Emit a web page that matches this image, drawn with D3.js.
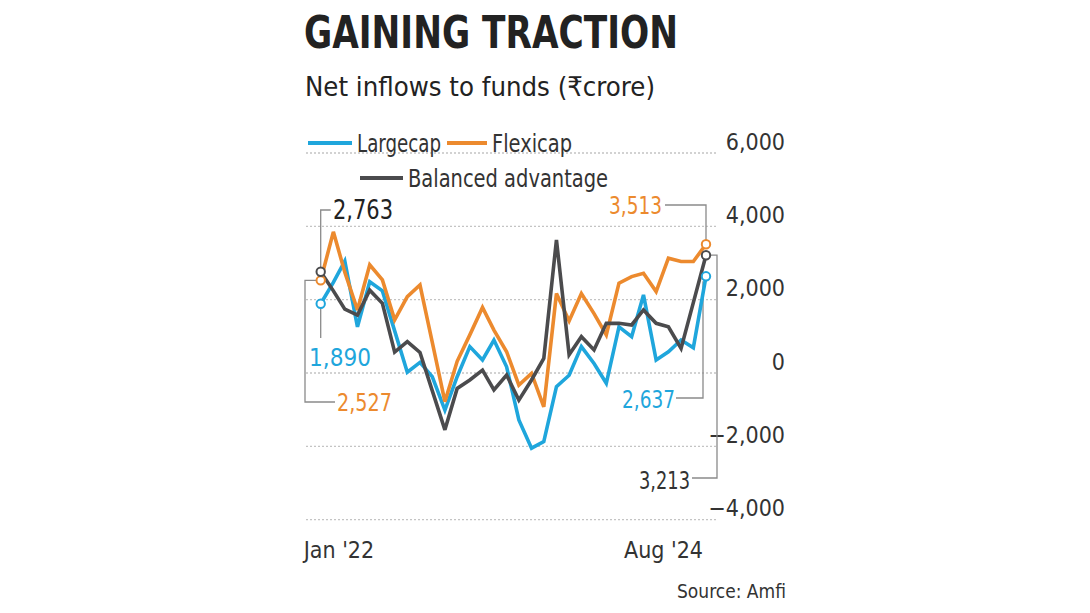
<!DOCTYPE html>
<html>
<head>
<meta charset="utf-8">
<script src="https://cdn.jsdelivr.net/npm/d3@7"></script>
<style>
  body { margin: 0; background: #fff; }
  svg text { font-family: "DejaVu Sans Condensed", "DejaVu Sans", sans-serif; }
</style>
</head>
<body>
<svg width="1090" height="613"></svg>
<script>
// monthly net inflows, Jan 2022 .. Aug 2024 (Rs crore)
var largecap = [1890, 2470, 3050, 1260, 2490, 2240, 1150, 20, 290, -100, -1010, -100, 720, 355, 900, 170,
                -1280, -2050, -1870, -370, -60, 720, 260, -280, 1260, 990, 2130, 355, 580, 900, 690, 2637];
var flexicap = [2527, 3850, 2750, 1720, 2950, 2540, 1450, 2080, 2400, 845, -780, 320, 1040, 1790, 1170, 580,
                -330, -10, -920, 2170, 1420, 2170, 1620, 1040, 2450, 2630, 2720, 2220, 3130, 3040, 3040, 3513];
var balanced = [2763, 2240, 1740, 1580, 2260, 1900, 570, 855, 560, -480, -1550, -420, -190, 80, -460, -55,
                -740, -190, 400, 3630, 500, 990, 630, 1355, 1355, 1310, 1720, 1355, 1260, 670, 1920, 3213];
var yTicks = [6000, 4000, 2000, 0, -2000, -4000];
var xLabels = ["Jan '22", "Aug '24"];

var months = d3.timeMonths(new Date(2022, 0, 1), new Date(2024, 8, 1));

var blue = "#1fa6dc", orange = "#ec8a2e", dark = "#4b4b4d", bracket = "#8a8a8a";

var svg = d3.select("svg");

var x = d3.scaleTime()
    .domain([months[0], months[months.length - 1]])
    .range([320.7, 706]);

var y = d3.scaleLinear()
    .domain([-4000, 6000])
    .range([519.7, 153]);

// the original uses a condensed face, so squeeze wide labels to its widths
function squeeze(sel, w) {
  sel.attr("textLength", w).attr("lengthAdjust", "spacingAndGlyphs");
}

// titles
svg.append("text").attr("x", 304).attr("y", 48)
    .attr("font-size", 45).attr("font-weight", "bold").attr("fill", "#222")
    .text("GAINING TRACTION")
    .call(squeeze, 374);
svg.append("text").attr("x", 305).attr("y", 96)
    .attr("font-size", 27).attr("fill", "#222")
    .text("Net inflows to funds (₹crore)")
    .call(squeeze, 350);

// gridlines
svg.append("g").selectAll("line")
    .data(yTicks)
    .enter().append("line")
    .attr("x1", 306).attr("x2", 718)
    .attr("y1", d => y(d)).attr("y2", d => y(d))
    .attr("stroke", "#c4c4c4").attr("stroke-width", 1.3)
    .attr("stroke-dasharray", "2,2");

// y axis labels
var yAxis = svg.append("g")
    .attr("transform", "translate(718,0)")
    .call(d3.axisRight(y).tickValues(yTicks).tickSize(0).tickFormat(d3.format(",")));
yAxis.select(".domain").remove();
yAxis.selectAll("text")
    .attr("x", 67).attr("dy", -4)
    .attr("text-anchor", "end")
    .attr("font-size", 23).attr("fill", "#333");

// x labels
svg.append("g").selectAll("text")
    .data([months[0], months[months.length - 1]])
    .enter().append("text")
    .attr("x", (d, i) => i == 0 ? x(d) - 17 : x(d) - 82)
    .attr("y", 558)
    .attr("font-size", 23).attr("fill", "#333")
    .text((d, i) => xLabels[i]);

// annotation brackets (drawn under the lines)
var b = svg.append("g").attr("fill", "none").attr("stroke", bracket).attr("stroke-width", 1.3);
var n = months.length - 1;
// 2,763 (balanced start)
b.append("path").attr("d", "M" + (x(months[0]) + 10) + "," + 210 + "H" + x(months[0]) + "V" + y(balanced[0]));
// 1,890 (largecap start)
b.append("path").attr("d", "M" + x(months[0]) + "," + y(largecap[0]) + "V" + 338);
// 2,527 (flexicap start)
b.append("path").attr("d", "M" + x(months[0]) + "," + y(flexicap[0]) + "H" + 305 + "V" + 402 + "H" + 335);
// 3,513 (flexicap end)
b.append("path").attr("d", "M" + 665 + "," + 205 + "H" + x(months[n]) + "V" + y(flexicap[n]));
// 2,637 (largecap end)
b.append("path").attr("d", "M" + 676 + "," + 398 + "H" + 703 + "V" + (y(largecap[n]) + 5));
// 3,213 (balanced end)
b.append("path").attr("d", "M" + x(months[n]) + "," + y(balanced[n]) + "H" + 717 + "V" + 478 + "H" + 692);

// lines
var series = [
  {name: "Largecap", values: largecap, color: blue},
  {name: "Flexicap", values: flexicap, color: orange},
  {name: "Balanced advantage", values: balanced, color: dark}
];

var line = d3.line()
    .x((d, i) => x(months[i]))
    .y(d => y(d));

svg.append("g").selectAll("path")
    .data(series)
    .enter().append("path")
    .attr("d", d => line(d.values))
    .attr("fill", "none")
    .attr("stroke", d => d.color)
    .attr("stroke-width", 3.6)
    .attr("stroke-linejoin", "miter")
    .attr("stroke-miterlimit", 3);

// end-point rings
var ends = [];
series.forEach(s => {
  ends.push({x: months[0], v: s.values[0], color: s.color});
  ends.push({x: months[n], v: s.values[n], color: s.color});
});
svg.append("g").selectAll("circle")
    .data(ends)
    .enter().append("circle")
    .attr("cx", d => x(d.x)).attr("cy", d => y(d.v))
    .attr("r", 4.2)
    .attr("fill", "#fff").attr("stroke", d => d.color).attr("stroke-width", 2);

// annotation labels
var fmt = d3.format(",");
var notes = [
  {v: balanced[0], color: "#222", x: 333, y: 219, w: 60, fs: 26},
  {v: largecap[0], color: blue, x: 309, y: 366, w: 62, fs: 24},
  {v: flexicap[0], color: orange, x: 337, y: 411, w: 55, fs: 24},
  {v: flexicap[n], color: orange, x: 609, y: 214, w: 53, fs: 24},
  {v: largecap[n], color: blue, x: 622, y: 408, w: 53, fs: 24},
  {v: balanced[n], color: "#333", x: 639, y: 489, w: 51, fs: 24}
];
svg.append("g").selectAll("text")
    .data(notes)
    .enter().append("text")
    .attr("x", d => d.x).attr("y", d => d.y)
    .attr("font-size", d => d.fs)
    .attr("fill", d => d.color)
    .attr("textLength", d => d.w).attr("lengthAdjust", "spacingAndGlyphs")
    .text(d => fmt(d.v));

// legend
var legend = [
  {name: "Largecap", color: blue, x1: 308, x2: 352, ty: 152, w: 84},
  {name: "Flexicap", color: orange, x1: 447, x2: 487, ty: 152, w: 80},
  {name: "Balanced advantage", color: dark, x1: 360, x2: 403, ty: 187, w: 200}
];
var lg = svg.append("g").selectAll("g").data(legend).enter().append("g");
lg.append("line")
    .attr("x1", d => d.x1).attr("x2", d => d.x2)
    .attr("y1", d => d.ty - 9).attr("y2", d => d.ty - 9)
    .attr("stroke", d => d.color).attr("stroke-width", 4);
lg.append("text")
    .attr("x", d => d.x2 + 5).attr("y", d => d.ty)
    .attr("font-size", 25).attr("fill", "#333")
    .attr("textLength", d => d.w).attr("lengthAdjust", "spacingAndGlyphs")
    .text(d => d.name);

svg.append("text").attr("x", 786).attr("y", 598)
    .attr("text-anchor", "end").attr("font-size", 19).attr("fill", "#333")
    .text("Source: Amfi");
</script>
</body>
</html>
